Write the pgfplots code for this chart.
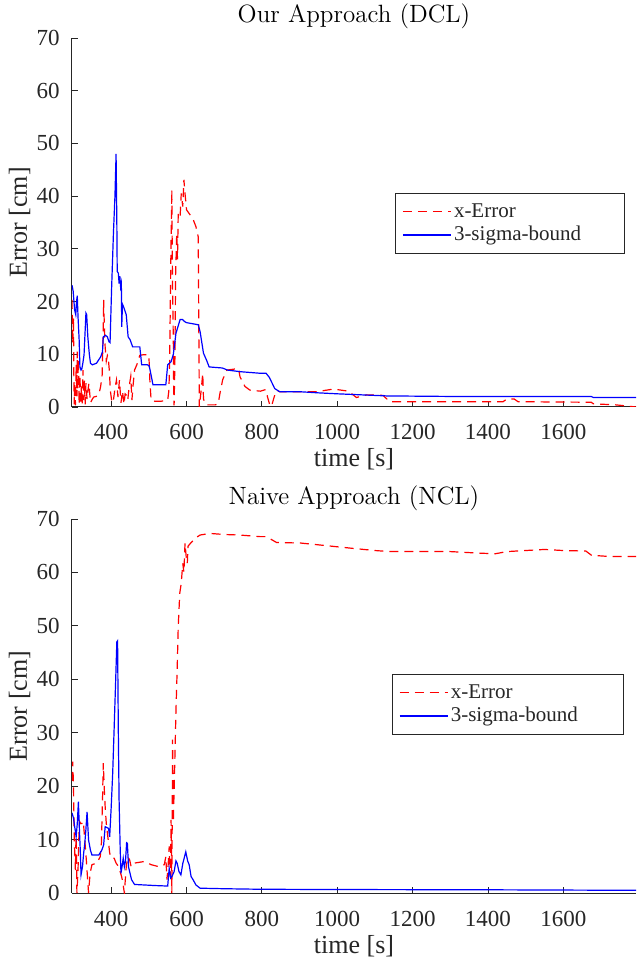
\documentclass[border=0pt]{standalone}
\usepackage{fontspec}
\usepackage{pgfplots}
\pgfplotsset{compat=1.18}
\newfontfamily\tnr{Liberation Serif}
\definecolor{axgray}{RGB}{38,38,38}

% x-Error and 3-sigma bound, DCL run
\pgfplotstableread{
t err
296 20.3
298 12
300 17
301 5
302 0.5
303 4.5
305 0.3
307 8
309 2
310 10.5
311 3
313 9.0
315 0.5
317 6
319 1
321 3.9
323 0.3
325 7.0
327 1.3
329 5
331 0.5
333 4.5
336 1.5
338 3.0
341 4.5
345 0.8
350 1.5
354 1.9
360 2.0
367 2.3
372 3.9
376 6
378 12
380 20.3
382 15
384 11.4
387 8.7
390 9.8
392 9.5
395 7.0
398 3.0
402 0.8
406 1.3
410 3.5
414 5.1
418 1.9
422 5.1
426 0.8
430 3.0
434 0.5
437 2.5
440 2.3
444 1.3
448 4
452 5.8
455 1.3
458 4
462 7.0
468 8
476 9.8
484 9.9
500 9.9
503 4.5
506 1.3
515 1.1
533 1.1
550 1.3
553 3
555 7.6
557 20
559 32
561 41.2
562 30
563 22.5
565 12
566 2
567 0.3
569 8
571 25
574 33
576 28
578 36.9
583 36.2
586 40.5
590 38
593 43.1
596 40.5
600 37.4
609 36.5
618 35.5
625 34.2
631 32.3
634 0
637 2
640 4
643 6.4
645 1.5
648 1.0
652 0.4
658 0.4
676 0.4
684 0.6
689 2.7
696 5.2
707 7.0
738 7.3
742 5.7
755 3.9
768 3.2
796 3.0
810 3.3
815 1.9
822 0.1
827 0.5
833 2.0
840 3.1
848 2.9
945 2.9
990 3.4
1030 3.0
1051 1.8
1078 2.3
1122 2.2
1139 1.0
1300 1.0
1440 1.0
1450 1.5
1470 1.5
1480 1.0
1674 0.9
1680 0.6
1740 0.4
1793 0.0
}\dclerr

\pgfplotstableread{
t sig
296 23.1
299 22
303 18.4
306 17.5
308 20
310 21.1
312 17.1
315 12.7
317 7.6
320 7.0
322 7.2
325 8.4
328 9.9
333 17.8
335 17.5
338 13.3
342 10
345 8.3
350 8.0
361 8.3
372 9.5
377 10.5
379 13.3
385 13.6
390 13.3
394 12.4
397 12.2
401 22.2
406 33
410 40
413 48.0
415 35
416 25.7
419 25.4
421 23.4
423 24.8
425 22.8
427 23.5
428 15.2
430 19.5
434 18.8
440 17.5
445 13.3
450 12.8
457 11.4
476 11.4
481 8.0
496 8.0
501 7.8
511 4.2
545 4.2
550 8.0
559 8.6
565 10
572 14
583 16.6
589 16.6
595 16.2
600 16.0
631 15.6
636 14.3
645 10.2
653 8.9
660 7.6
695 7.4
709 7.0
742 6.7
795 6.4
811 6.4
820 5.6
834 3.5
847 2.9
900 2.9
945 2.7
1000 2.5
1131 2.1
1300 2.0
1674 2.0
1680 1.8
1793 1.8
}\dclsig

% same for the naive run
\pgfplotstableread{
t err
296 21
298 24.6
300 20
302 10
305 4.3
307 12
309 0
312 4.3
314 10
316 13.4
319 13.0
322 13.0
326 13.4
330 9.9
334 6.2
338 2
340 0
344 3.7
349 5.3
362 5.6
371 6.8
374 9.3
377 17.4
379 24.3
382 19
384 16.2
387 13.0
392 10
396 7.5
400 6.5
408 6.5
413 5.6
420 4.9
428 3
431 1.9
435 0
438 3
440 4.9
444 6.8
449 6.2
453 4.9
462 5.6
488 5.9
506 5.3
528 4.9
541 5.3
545 6.8
548 2.5
551 5
554 8.7
557 3
559 13.7
561 0
563 28.7
565 13.3
568 22
572 34.3
575 41.5
578 49.9
582 56.1
586 58
590 61.7
593 60
596 65.5
599 63
602 61.7
604 64.9
611 65.5
625 66.5
636 67.0
662 67.3
700 67.1
741 67.0
795 66.7
812 66.7
839 65.6
903 65.5
945 65.2
1000 64.8
1042 64.5
1100 64.1
1139 63.9
1300 63.9
1380 63.6
1420 63.5
1450 63.9
1500 64.1
1550 64.3
1600 64.1
1660 64.0
1675 63.2
1720 63.0
1793 63.0
}\nclerr

\pgfplotstableread{
t sig
296 15
300 14.0
303 12.5
307 10.5
310 13
313 17.1
316 11.3
318 8
320 3.4
324 5
327 7.5
330 9.3
333 12
336 15.2
340 9.9
345 8
349 7.1
367 7.1
375 8.0
380 9
384 12.4
393 12.1
396 10.5
400 16
404 22.4
408 31.1
412 40
415 47.0
417 47.2
419 30
421 17.4
424 8
426 3.7
429 5
432 6.5
435 4.9
438 6
441 9.4
443 9.3
446 4.9
450 3.7
454 2.5
462 1.6
515 1.4
550 1.3
552 3
554 4.6
558 2.8
562 3.2
567 4.0
572 6
575 5.6
580 4
585 3.4
590 5.5
598 7.7
603 6.0
607 5.3
612 3.1
618 2.4
625 1.5
636 0.9
700 0.8
795 0.7
1000 0.65
1400 0.6
1600 0.55
1793 0.5
}\nclsig

\pgfplotsset{
  errplot/.style={
    scale only axis, width=282pt, anchor=south west,
    xmin=296, xmax=1793, ymin=0, ymax=70,
    xtick={400,600,...,1600}, ytick={0,10,...,70},
    axis x line*=bottom, axis y line*=left,
    axis line style={-, axgray, line width=0.5pt},
    tick align=inside, major tick length=3pt,
    tick style={axgray, line width=0.4pt},
    tick label style={font=\tnr\fontsize{11.5}{13}\selectfont, text=axgray},
    /pgf/number format/assume math mode=true,
    /pgf/number format/set thousands separator={},
    xticklabel style={anchor=base, yshift=-16.5pt},
    yticklabel style={anchor=east, xshift=-2.7pt},
    xlabel={time [s]}, ylabel={Error [cm]},
    label style={font=\tnr\fontsize{13}{15}\selectfont, text=axgray},
    xlabel style={at={(axis description cs:0.5,0)}, anchor=base, yshift=-30pt},
    ylabel style={at={(axis description cs:-0.0798,0.5)}, anchor=base},
    title style={font=\fontsize{12.5}{15}\selectfont, at={(axis description cs:0.5,1)}, anchor=base, yshift=1.5pt},
    legend cell align=left,
    legend image code/.code={\draw[#1] (0pt,0pt) -- (24pt,0pt);},
    legend style={anchor=north west, draw=axgray, line width=0.5pt,
      font=\tnr\fontsize{10.5}{12}\selectfont, text=axgray,
      inner xsep=3.4pt, inner ysep=4.5pt, row sep=2pt,
      nodes={inner xsep=1.25pt, inner ysep=0.5pt}},
  },
  errline/.style={red, line width=0.6pt, dash pattern=on 4.5pt off 3pt},
  sigline/.style={blue, line width=0.6pt},
}

\begin{document}
\begin{tikzpicture}
\begin{axis}[errplot, at={(0,243pt)}, height=184.5pt,
    title={Our Approach (DCL)},
    legend style={at={(axis description cs:0.5727,0.58)}}]
\addplot[errline] table[x=t, y=err] {\dclerr};
\addlegendentry{x-Error}
\addplot[sigline] table[x=t, y=sig] {\dclsig};
\addlegendentry{\makebox[80.5pt][l]{3-sigma-bound}}
\end{axis}

\begin{axis}[errplot, at={(0,0)}, height=187pt,
    title={Naive Approach (NCL)},
    legend style={at={(axis description cs:0.567,0.5856)}}]
\addplot[errline] table[x=t, y=err] {\nclerr};
\addlegendentry{x-Error}
\addplot[sigline] table[x=t, y=sig] {\nclsig};
\addlegendentry{\makebox[81.5pt][l]{3-sigma-bound}}
\end{axis}

\pgfresetboundingbox
\path[use as bounding box] (-36pt,-34pt) rectangle (282pt,446.5pt);
\end{tikzpicture}
\end{document}
